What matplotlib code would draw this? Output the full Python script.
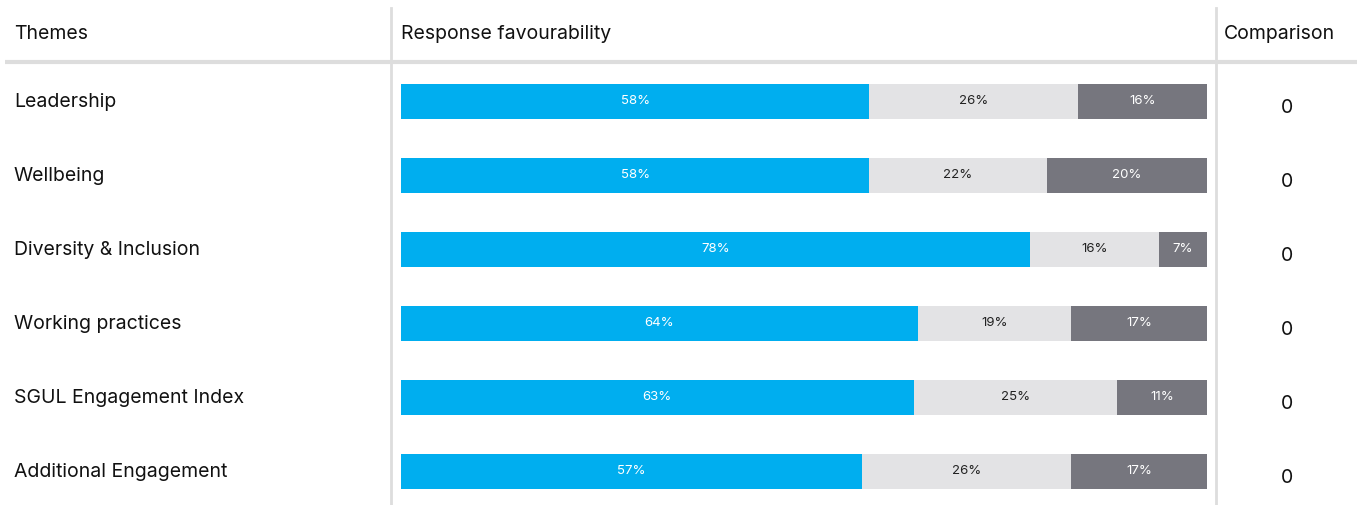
import matplotlib
matplotlib.use("Agg")
import matplotlib.pyplot as plt
import numpy as np

# Data (shares; labels as printed)
themes = ["Leadership", "Wellbeing", "Diversity & Inclusion", "Working practices",
          "SGUL Engagement Index", "Additional Engagement"]
favourable = [58.1, 58.1, 78.0, 64.1, 63.6, 57.2]
neutral = [25.9, 22.0, 16.0, 19.0, 25.2, 25.9]
unfavourable = [16.0, 19.9, 6.1, 17.0, 11.3, 17.0]
favourable_lbl = [58, 58, 78, 64, 63, 57]
neutral_lbl = [26, 22, 16, 19, 25, 26]
unfavourable_lbl = [16, 20, 7, 17, 11, 17]
comparison = [0, 0, 0, 0, 0, 0]

plt.rcParams["font.family"] = ["Inter", "DejaVu Sans"]

W, H = 1364, 505
fig = plt.figure(figsize=(W / 100, H / 100), dpi=100)

# background axes in pixel coordinates for the table grid and labels
bg = fig.add_axes([0, 0, 1, 1])
bg.set_xlim(0, W)
bg.set_ylim(H, 0)
bg.axis("off")

grid_col = "#dddddd"
bg.plot([5, 1357], [62, 62], color=grid_col, lw=3, solid_capstyle="butt")
bg.plot([391, 391], [8, H], color=grid_col, lw=2)
bg.plot([1216, 1216], [8, H], color=grid_col, lw=2)

txt_col = "#111111"
fs = 14
bg.text(14, 34, "Themes", fontsize=fs, color=txt_col, va="center")
bg.text(401, 34, "Response favourability", fontsize=fs, color=txt_col, va="center")
bg.text(1224, 34, "Comparison", fontsize=fs, color=txt_col, va="center")

row_y = 101 + 74 * np.arange(len(themes))
for y, name, c in zip(row_y, themes, comparison):
    bg.text(14, y + 1, name, fontsize=fs, color=txt_col, va="center")
    bg.text(1287, y + 7, str(c), fontsize=fs, color=txt_col, va="center", ha="center")

# bar axes: x in percent
ax = fig.add_axes([401 / W, 0, 806 / W, 1])
ax.set_xlim(0, 100)
ax.set_ylim(H, 0)
ax.axis("off")
ax.patch.set_alpha(0)

fav = np.array(favourable)
neu = np.array(neutral)
unf = np.array(unfavourable)

series = [
    (fav, np.zeros(len(fav)), favourable_lbl, "#00aeef", "white"),
    (neu, fav, neutral_lbl, "#e3e3e5", "#222222"),
    (unf, fav + neu, unfavourable_lbl, "#76767e", "white"),
]
for vals, left, lbls, col, tcol in series:
    bars = ax.barh(row_y, vals, left=left, height=35, color=col, edgecolor="none")
    ax.bar_label(bars, labels=[f"{v}%" for v in lbls], label_type="center",
                 fontsize=9.5, color=tcol)

fig.savefig("out.png", dpi=100)
